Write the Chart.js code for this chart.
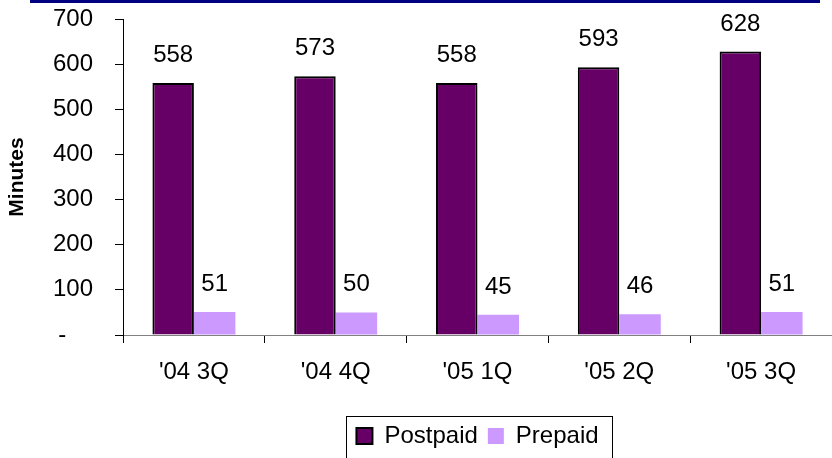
<!DOCTYPE html>
<html>
<head>
<meta charset="utf-8">
<title>Minutes of use: Postpaid vs Prepaid</title>
<script src="https://cdn.jsdelivr.net/npm/chart.js@4.4.1/dist/chart.umd.min.js"></script>
<style>
  html, body { margin: 0; padding: 0; background: #ffffff; }
  #wrap { width: 832px; height: 458px; }
</style>
</head>
<body>
<div id="wrap"><canvas id="mou" width="832" height="458"></canvas></div>
<script>
// Quarterly minutes of use per subscriber
const quarters = ["'04 3Q", "'04 4Q", "'05 1Q", "'05 2Q", "'05 3Q"];
const postpaid = [558, 573, 558, 593, 628];
const prepaid  = [51, 50, 45, 46, 51];
const yTicks   = [0, 100, 200, 300, 400, 500, 600, 700];

const FONT = "'Liberation Sans', Arial, Helvetica, sans-serif";
Chart.defaults.font.family = FONT;
Chart.defaults.color = '#000000';

// Value printed above each bar
const barValues = {
  id: 'barValues',
  afterDatasetsDraw(chart) {
    const ctx = chart.ctx;
    ctx.save();
    ctx.font = '24px ' + FONT;
    ctx.fillStyle = '#000000';
    ctx.textAlign = 'center';
    ctx.textBaseline = 'alphabetic';
    chart.data.datasets.forEach((ds, i) => {
      chart.getDatasetMeta(i).data.forEach((bar, j) => {
        ctx.fillText(String(ds.data[j]), bar.x, bar.y - 21);
      });
    });
    ctx.restore();
  }
};

// Navy rule along the top edge and a frame round the legend
const decorations = {
  id: 'decorations',
  afterDraw(chart) {
    const ctx = chart.ctx;
    ctx.save();
    ctx.fillStyle = '#000080';
    ctx.fillRect(30, 0, 790, 3);

    const lg = chart.legend;
    if (lg && lg.legendHitBoxes && lg.legendHitBoxes.length) {
      const hb = lg.legendHitBoxes;
      const first = hb[0], last = hb[hb.length - 1];
      const left = Math.round(first.left - 10);
      const right = Math.round(last.left + last.width + 13);
      const top = Math.round(lg.top + 2);
      ctx.strokeStyle = '#000000';
      ctx.lineWidth = 1;
      ctx.strokeRect(left + 0.5, top + 0.5, right - left, 120);
    }
    ctx.restore();
  }
};

new Chart(document.getElementById('mou'), {
  type: 'bar',
  data: {
    labels: quarters,
    datasets: [
      {
        label: 'Postpaid',
        data: postpaid,
        backgroundColor: '#660066',
        borderColor: '#000000',
        borderWidth: 2,
        barPercentage: 1,
        categoryPercentage: 0.585
      },
      {
        label: 'Prepaid',
        data: prepaid,
        backgroundColor: '#CC99FF',
        borderColor: '#CC99FF',
        borderWidth: 0,
        barPercentage: 1,
        categoryPercentage: 0.585
      }
    ]
  },
  options: {
    responsive: false,
    animation: false,
    layout: { padding: { top: 19, right: 0, bottom: 0, left: 0 } },
    plugins: {
      legend: {
        position: 'bottom',
        fullSize: false,
        labels: {
          boxWidth: 16,
          boxHeight: 16,
          padding: 10,
          color: '#000000',
          font: { size: 24 }
        }
      },
      tooltip: { enabled: false }
    },
    scales: {
      x: {
        grid: {
          display: true,
          drawOnChartArea: false,
          drawTicks: true,
          tickLength: 8,
          color: '#000000',
          offset: true
        },
        border: { display: true, color: '#808080', width: 1 },
        ticks: { font: { size: 24 }, color: '#000000', padding: 15, maxRotation: 0 },
        afterFit(scale) { scale.height = 79; }
      },
      y: {
        min: 0,
        max: 700,
        afterBuildTicks(scale) { scale.ticks = yTicks.map(v => ({ value: v })); },
        grid: {
          display: true,
          drawOnChartArea: false,
          drawTicks: true,
          tickLength: 8,
          color: '#000000'
        },
        border: { display: true, color: '#000000', width: 1 },
        ticks: {
          font: { size: 24 },
          color: '#000000',
          padding: 2,
          // trailing spaces keep the labels clear of the tick marks
          callback: v => (v === 0 ? '-       ' : String(v) + '   ')
        },
        title: {
          display: true,
          text: 'Minutes',
          color: '#000000',
          font: { size: 21, weight: 'bold' },
          padding: { top: 5, bottom: 0 }
        },
        afterFit(scale) { scale.width = 123; }
      }
    }
  },
  plugins: [barValues, decorations]
});
</script>
</body>
</html>
